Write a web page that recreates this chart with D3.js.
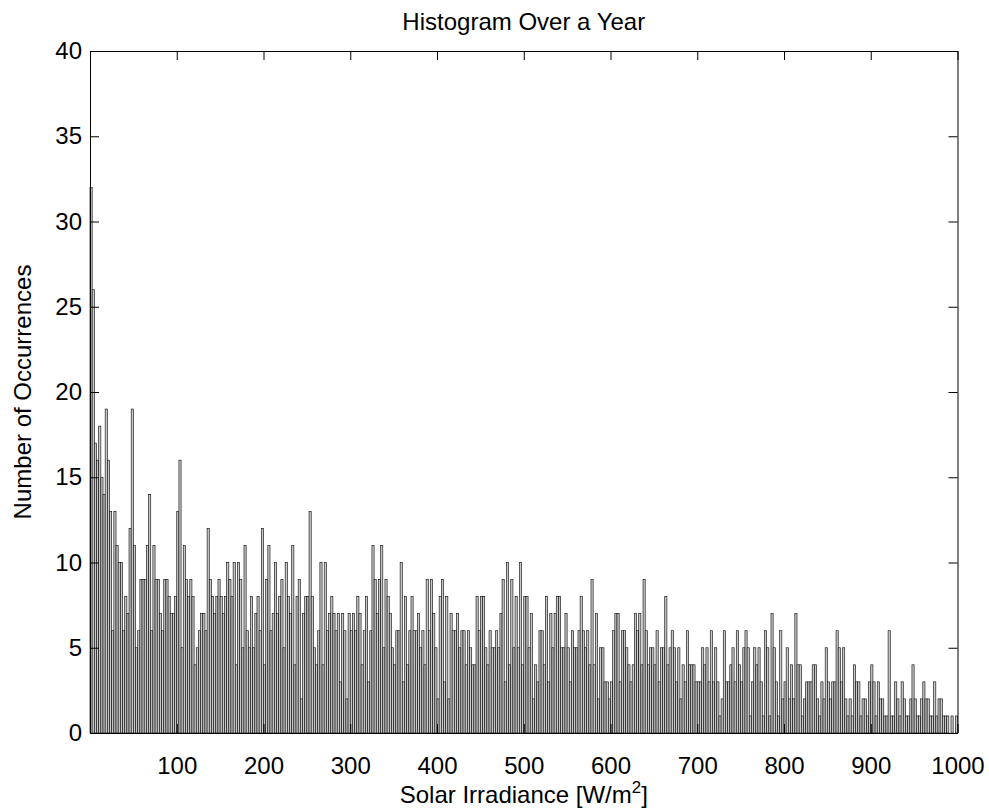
<!DOCTYPE html>
<html><head><meta charset="utf-8">
<script src="https://cdn.jsdelivr.net/npm/d3@7"></script>
<style>
body{margin:0;background:#fff}
text{font-family:"Liberation Sans",Arial,Helvetica,sans-serif;fill:#000}
</style>
</head><body>
<svg id="chart" width="989" height="812"></svg>
<script>
// ---- data ----
const binStart = 0;
const binWidth = 2.5;
const counts = [
32,26,17,16,18,15,14,19,16,13, 6,13,11,10,10,6,8,7,12,19, 11,5,6,9,9,9,11,14,6,11, 9,9,7,6,9,9,8,7,7,8, 13,16,5,11,9,8,9,8,4,5,
6,7,7,6,12,9,8,7,8,9, 8,7,8,10,9,8,10,4,10,9, 5,11,6,5,8,5,7,8,6,12, 4,9,11,6,7,10,7,8,9,5, 10,8,7,11,4,8,9,2,7,8,
8,13,8,5,4,6,10,4,10,6, 7,8,7,6,7,3,7,6,2,7, 6,7,6,8,7,4,6,8,3,6, 11,9,7,9,11,5,9,8,7,5, 4,6,6,10,3,8,4,6,8,6,
6,7,5,6,4,9,6,9,7,5, 2,8,9,3,8,2,7,6,6,7, 5,6,6,4,6,5,4,4,8,6, 8,8,5,4,6,5,5,6,5,7, 9,3,10,4,9,5,8,5,10,4,
8,8,5,7,2,4,3,6,6,4, 8,3,7,5,7,8,8,5,5,7, 5,3,6,5,5,6,8,6,5,6, 4,9,4,7,2,5,5,3,3,2, 3,6,7,7,3,6,6,5,4,3,
4,7,6,7,4,9,6,4,5,5, 4,6,3,5,5,8,4,5,6,5, 3,5,2,4,3,6,4,4,4,3, 3,3,5,4,5,3,6,3,5,3, 1,2,6,3,3,4,5,3,6,4,
3,5,6,5,1,3,5,4,5,3, 1,6,5,1,7,5,3,1,6,2, 3,5,2,4,2,7,4,4,1,2, 3,3,3,4,4,2,1,3,2,5, 3,2,3,3,6,5,3,5,2,1,
2,1,4,3,3,1,2,2,1,3, 4,3,1,3,2,2,1,1,6,1, 1,3,2,1,3,2,1,1,2,4, 2,1,1,2,3,2,2,1,1,3, 1,2,2,1,1,1,0,1,0,1
];
const xTicks = [100,200,300,400,500,600,700,800,900,1000];
const yTicks = [0,5,10,15,20,25,30,35,40];
const xDomain = [0, 1000];
const yDomain = [0, 40];
const titleText = "Histogram Over a Year";
const xLabelText = "Solar Irradiance [W/m";
const xLabelSup = "2";
const xLabelEnd = "]";
const yLabelText = "Number of Occurrences";

// ---- layout ----
const M = {left: 90, right: 957.5, top: 51, bottom: 733};
const FS = 24;
const svg = d3.select("#chart");
const x = d3.scaleLinear().domain(xDomain).range([M.left, M.right]);
const y = d3.scaleLinear().domain(yDomain).range([M.bottom, M.top]);

const bins = counts.map((c, i) => ({x0: binStart + i * binWidth, x1: binStart + (i + 1) * binWidth, c}));

svg.append("g").selectAll("rect").data(bins.filter(d => d.c > 0)).join("rect")
  .attr("x", d => x(d.x0))
  .attr("width", d => x(d.x1) - x(d.x0))
  .attr("y", d => y(d.c))
  .attr("height", d => y(0) - y(d.c))
  .attr("fill", "#c8c8c8")
  .attr("stroke", "#111")
  .attr("stroke-width", 0.65);

function styleAxis(g) {
  g.selectAll("path.domain").attr("stroke", "#000").attr("stroke-width", 1);
  g.selectAll(".tick line").attr("stroke", "#000").attr("stroke-width", 1);
  g.selectAll("text").attr("font-size", FS).attr("font-family", '"Liberation Sans",Arial,sans-serif').attr("fill", "#000");
}

const gB = svg.append("g").attr("transform", `translate(0,${M.bottom})`)
  .call(d3.axisBottom(x).tickValues(xTicks).tickFormat(d3.format("d")).tickSizeInner(-9).tickSizeOuter(0).tickPadding(24));
styleAxis(gB);
const gT = svg.append("g").attr("transform", `translate(0,${M.top})`)
  .call(d3.axisTop(x).tickValues(xTicks).tickSizeInner(-9).tickSizeOuter(0).tickFormat(""));
styleAxis(gT);
const gL = svg.append("g").attr("transform", `translate(${M.left},0)`)
  .call(d3.axisLeft(y).tickValues(yTicks).tickSizeInner(-9).tickSizeOuter(0).tickPadding(8));
styleAxis(gL);
const gR = svg.append("g").attr("transform", `translate(${M.right},0)`)
  .call(d3.axisRight(y).tickValues(yTicks).tickSizeInner(-9).tickSizeOuter(0).tickFormat(""));
styleAxis(gR);

svg.append("text").attr("x", (M.left + M.right) / 2).attr("y", 30)
  .attr("text-anchor", "middle").attr("font-size", FS).text(titleText);

const xl = svg.append("text").attr("x", (M.left + M.right) / 2).attr("y", 803)
  .attr("text-anchor", "middle").attr("font-size", FS);
xl.append("tspan").text(xLabelText);
xl.append("tspan").attr("font-size", FS * 0.7).attr("dy", -10).text(xLabelSup);
xl.append("tspan").attr("dy", 10).text(xLabelEnd);

svg.append("text").attr("transform", `translate(31,${(M.top + M.bottom) / 2}) rotate(-90)`)
  .attr("text-anchor", "middle").attr("font-size", FS).text(yLabelText);
</script>
</body></html>
